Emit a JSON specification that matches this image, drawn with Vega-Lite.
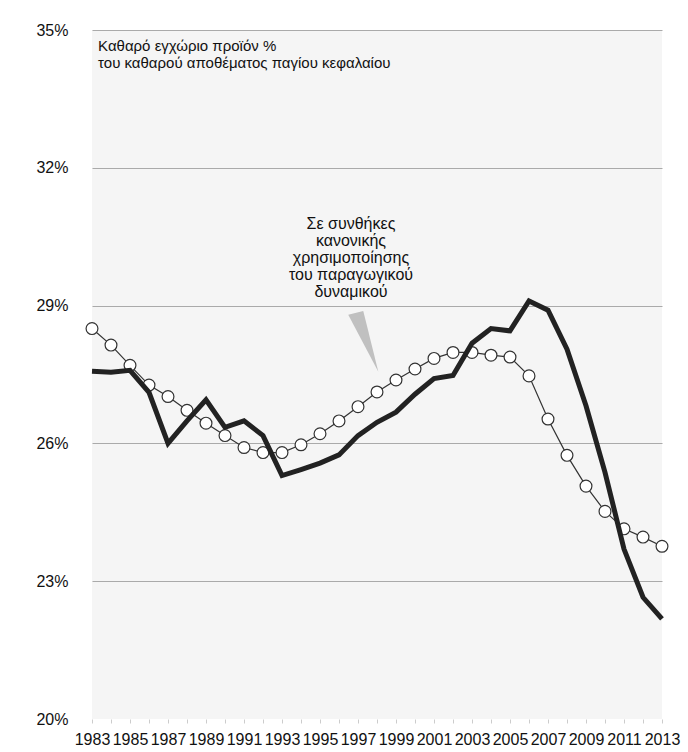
{
  "$schema": "https://vega.github.io/schema/vega-lite/v6.json",
  "width": 570,
  "height": 689,
  "autosize": {"type": "none"},
  "padding": {"left": 92, "top": 30, "right": 26, "bottom": 33},
  "background": "white",
  "config": {
    "view": {"fill": "#f5f5f5", "stroke": null},
    "font": "Liberation Sans"
  },
  "datasets": {
    "series": [
      {"year": 1983, "actual": 27.57, "normal": 28.50},
      {"year": 1984, "actual": 27.55, "normal": 28.14},
      {"year": 1985, "actual": 27.59, "normal": 27.70},
      {"year": 1986, "actual": 27.11, "normal": 27.27},
      {"year": 1987, "actual": 26.00, "normal": 27.02},
      {"year": 1988, "actual": 26.49, "normal": 26.72},
      {"year": 1989, "actual": 26.95, "normal": 26.44},
      {"year": 1990, "actual": 26.35, "normal": 26.17},
      {"year": 1991, "actual": 26.49, "normal": 25.91},
      {"year": 1992, "actual": 26.17, "normal": 25.80},
      {"year": 1993, "actual": 25.30, "normal": 25.80},
      {"year": 1994, "actual": 25.43, "normal": 25.97},
      {"year": 1995, "actual": 25.57, "normal": 26.21},
      {"year": 1996, "actual": 25.75, "normal": 26.49},
      {"year": 1997, "actual": 26.17, "normal": 26.80},
      {"year": 1998, "actual": 26.46, "normal": 27.12},
      {"year": 1999, "actual": 26.68, "normal": 27.38},
      {"year": 2000, "actual": 27.07, "normal": 27.62},
      {"year": 2001, "actual": 27.41, "normal": 27.85},
      {"year": 2002, "actual": 27.48, "normal": 27.98},
      {"year": 2003, "actual": 28.18, "normal": 27.98},
      {"year": 2004, "actual": 28.50, "normal": 27.92},
      {"year": 2005, "actual": 28.45, "normal": 27.88},
      {"year": 2006, "actual": 29.10, "normal": 27.47},
      {"year": 2007, "actual": 28.90, "normal": 26.53},
      {"year": 2008, "actual": 28.05, "normal": 25.74},
      {"year": 2009, "actual": 26.82, "normal": 25.07},
      {"year": 2010, "actual": 25.37, "normal": 24.52},
      {"year": 2011, "actual": 23.70, "normal": 24.14},
      {"year": 2012, "actual": 22.65, "normal": 23.96},
      {"year": 2013, "actual": 22.18, "normal": 23.76}
    ],
    "pointer": [
      {"year": 1997.48, "value": 28.2}
    ],
    "notes": [
      {"year": 1983.32, "value": 34.8}
    ],
    "callout": [
      {"year": 1996.63, "value": 30.95}
    ]
  },
  "data": {"name": "series"},
  "encoding": {
    "x": {
      "field": "year",
      "type": "quantitative",
      "title": null,
      "scale": {"domain": [1983, 2013], "zero": false, "nice": false},
      "axis": {
        "values": [1983,1984,1985,1986,1987,1988,1989,1990,1991,1992,1993,1994,1995,1996,1997,1998,1999,2000,2001,2002,2003,2004,2005,2006,2007,2008,2009,2010,2011,2012,2013],
        "format": "d",
        "labelExpr": "datum.value % 2 == 1 ? datum.label : ''",
        "domain": false,
        "grid": false,
        "ticks": true,
        "tickSize": 4,
        "tickColor": "#cccccc",
        "tickWidth": 1,
        "labelPadding": 8,
        "labelFontSize": 16,
        "labelColor": "#111111",
        "labelFont": "Liberation Sans Narrow, Liberation Sans",
        "labelOverlap": false,
        "labelFlush": false
      }
    }
  },
  "layer": [
    {
      "mark": {"type": "line", "color": "#333333", "strokeWidth": 1.2},
      "encoding": {
        "y": {
          "field": "normal",
          "type": "quantitative",
          "title": null,
          "scale": {"domain": [20, 35], "zero": false, "nice": false},
          "axis": {
            "values": [20, 23, 26, 29, 32, 35],
            "labelExpr": "datum.value + '%'",
            "domain": false,
            "ticks": false,
            "grid": true,
            "gridColor": {"condition": {"test": "datum.value == 20", "value": "transparent"}, "value": "#aaaaaa"},
            "gridWidth": 1,
            "labelPadding": 24,
            "labelFontSize": 16,
            "labelColor": "#111111",
            "labelFont": "Liberation Sans Narrow, Liberation Sans"
          }
        }
      }
    },
    {
      "mark": {"type": "point", "shape": "circle", "filled": true, "fill": "white", "stroke": "#333333", "strokeWidth": 1.2, "size": 140, "opacity": 1},
      "encoding": {
        "y": {"field": "normal", "type": "quantitative", "title": null, "scale": {"domain": [20, 35]}}
      }
    },
    {
      "mark": {"type": "line", "color": "#222222", "strokeWidth": 5, "strokeJoin": "miter"},
      "encoding": {
        "y": {"field": "actual", "type": "quantitative", "title": null, "scale": {"domain": [20, 35]}}
      }
    },
    {
      "data": {"name": "pointer"},
      "mark": {"type": "point", "shape": "M -0.59 -0.86 L -0.12 -0.98 L 0.35 0.92 Z", "filled": true, "fill": "#c0c0c0", "strokeWidth": 0, "size": 4096, "opacity": 1},
      "encoding": {
        "x": {"field": "year", "type": "quantitative", "title": null},
        "y": {"field": "value", "type": "quantitative", "title": null, "scale": {"domain": [20, 35]}}
      }
    },
    {
      "data": {"name": "notes"},
      "mark": {"type": "text", "align": "left", "baseline": "top", "fontSize": 15, "lineHeight": 17, "color": "#111111", "font": "Liberation Sans", "text": ["Καθαρό εγχώριο προϊόν %", "του καθαρού αποθέματος παγίου κεφαλαίου"]},
      "encoding": {
        "x": {"field": "year", "type": "quantitative", "title": null},
        "y": {"field": "value", "type": "quantitative", "title": null, "scale": {"domain": [20, 35]}}
      }
    },
    {
      "data": {"name": "callout"},
      "mark": {"type": "text", "align": "center", "baseline": "top", "fontSize": 16, "lineHeight": 17, "color": "#111111", "font": "Liberation Sans", "text": ["Σε συνθήκες", "κανονικής", "χρησιμοποίησης", "του παραγωγικού", "δυναμικού"]},
      "encoding": {
        "x": {"field": "year", "type": "quantitative", "title": null},
        "y": {"field": "value", "type": "quantitative", "title": null, "scale": {"domain": [20, 35]}}
      }
    }
  ]
}
